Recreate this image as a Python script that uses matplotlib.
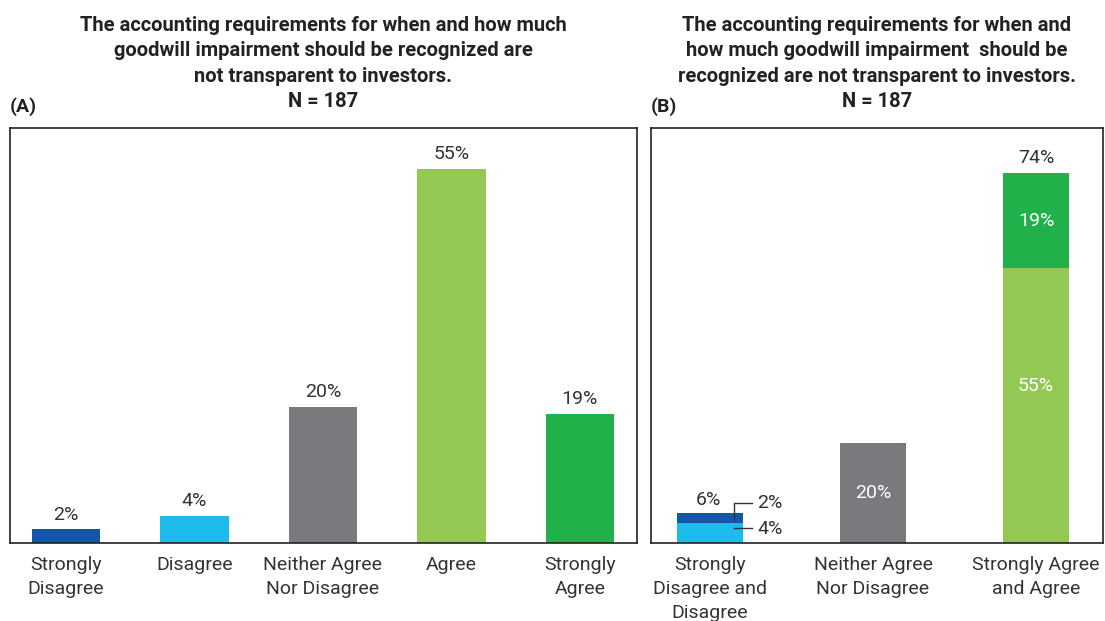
import matplotlib
matplotlib.use("Agg")
import matplotlib.pyplot as plt

plt.rcParams['font.family'] = ['Roboto', 'DejaVu Sans']

# Panel A data
cats_a = ["Strongly\nDisagree", "Disagree", "Neither Agree\nNor Disagree", "Agree", "Strongly\nAgree"]
vals_a = [2, 4, 20, 55, 19]

# Panel B data (stacked)
cats_b = ["Strongly\nDisagree and\nDisagree", "Neither Agree\nNor Disagree", "Strongly Agree\nand Agree"]
bottom_b = [4, 20, 55]
top_b = [2, 0, 19]

dark_blue = "#1457a6"
light_blue = "#1dbbea"
gray = "#7a797e"
light_green = "#92c853"
dark_green = "#21b14b"

colors_a = [dark_blue, light_blue, gray, light_green, dark_green]
colors_b_bottom = [light_blue, gray, light_green]
colors_b_top = [dark_blue, gray, dark_green]

title = ("The accounting requirements for when and how much\n"
         "goodwill impairment should be recognized are\n"
         "not transparent to investors.\nN = 187")
title_b = ("The accounting requirements for when and\n"
           "how much goodwill impairment  should be\n"
           "recognized are not transparent to investors.\nN = 187")

txt = "#333333"
fig = plt.figure(figsize=(11.05, 6.21), dpi=100)

ax1 = fig.add_axes([10/1105, 1-543/621, 627/1105, 415/621])
ax2 = fig.add_axes([651/1105, 1-543/621, 452/1105, 415/621])

# ---- panel A
xa = range(len(cats_a))
bars = ax1.bar(xa, vals_a, width=0.53, color=colors_a)
for b, v in zip(bars, vals_a):
    ax1.annotate(f"{v}%", (b.get_x() + b.get_width()/2, v), xytext=(0, 4),
                 textcoords="offset points", ha="center", va="bottom",
                 fontsize=14, color=txt)
ax1.set_xlim(-0.436, 4.444)
ax1.set_ylim(0, 415/6.8)
ax1.set_xticks(list(xa))
ax1.set_xticklabels(cats_a, fontsize=14, color=txt, linespacing=1.45)

# ---- panel B
xb = range(len(cats_b))
ax2.bar(xb, bottom_b, width=0.41, color=colors_b_bottom)
ax2.bar(xb, top_b, bottom=bottom_b, width=0.41, color=colors_b_top)
ax2.set_xlim(-0.362, 2.411)
ax2.set_ylim(0, 83)
ax2.set_xticks(list(xb))
ax2.set_xticklabels(cats_b, fontsize=14, color=txt, linespacing=1.45)

# totals above stacks
ax2.annotate(f"{bottom_b[0] + top_b[0]}%", (0, bottom_b[0] + top_b[0]), xytext=(-1, 3),
             textcoords="offset points", ha="center", va="bottom",
             fontsize=14, color=txt)
ax2.annotate(f"{bottom_b[2] + top_b[2]}%", (2, bottom_b[2] + top_b[2]), xytext=(0, 4),
             textcoords="offset points", ha="center", va="bottom",
             fontsize=14, color=txt)
# inside labels
ax2.text(1, bottom_b[1]/2, f"{bottom_b[1]}%", ha="center", va="center",
         fontsize=14, color="white")
ax2.text(2, bottom_b[2] + top_b[2]/2, f"{top_b[2]}%", ha="center", va="center",
         fontsize=14, color="white")
ax2.text(2, bottom_b[2]*0.57, f"{bottom_b[2]}%", ha="center", va="center",
         fontsize=14, color="white")

# leader lines for the small stacked bar
ax2.plot([0.145, 0.145, 0.26], [bottom_b[0] + 0.8, 8.0, 8.0], color=txt, lw=1)
ax2.plot([0.145, 0.26], [3.0, 3.0], color=txt, lw=1)
ax2.text(0.29, 8.0, f"{top_b[0]}%", ha="left", va="center", fontsize=14, color=txt)
ax2.text(0.29, 2.7, f"{bottom_b[0]}%", ha="left", va="center", fontsize=14, color=txt)

for ax in (ax1, ax2):
    ax.set_yticks([])
    ax.tick_params(axis="x", length=0, pad=9)
    for s in ax.spines.values():
        s.set_color("#222222")
        s.set_linewidth(1.2)

fig.text(323/1105, 1-16/621, title, ha="center", va="top", fontsize=14.5,
         fontweight="bold", color="#222222", linespacing=1.42)
fig.text(877/1105, 1-16/621, title_b, ha="center", va="top", fontsize=14.5,
         fontweight="bold", color="#222222", linespacing=1.42)
fig.text(10/1105, 1-107/621, "(A)", ha="left", va="center", fontsize=14,
         fontweight="bold", color="#222222")
fig.text(651/1105, 1-107/621, "(B)", ha="left", va="center", fontsize=14,
         fontweight="bold", color="#222222")

fig.savefig("out.png", dpi=100)
